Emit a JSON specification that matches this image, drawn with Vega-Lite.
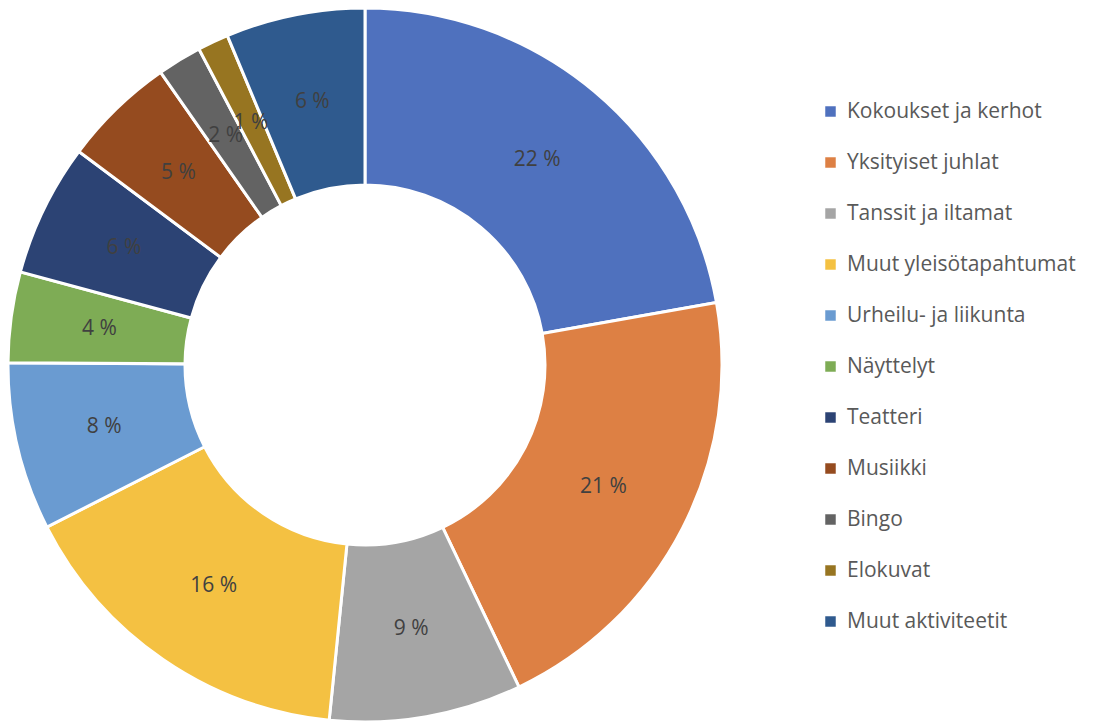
{
  "$schema": "https://vega.github.io/schema/vega-lite/v6.json",
  "width": 730,
  "height": 730,
  "padding": {"left": 0, "top": 0, "bottom": 0, "right": 386},
  "autosize": {"type": "none"},
  "background": "white",
  "config": {"view": {"stroke": null}, "font": "Open Sans"},
  "data": {
    "values": [
      {"kategoria": "Kokoukset ja kerhot", "osuus": 22.2, "nimi": "22 %", "jarj": 1},
      {"kategoria": "Yksityiset juhlat", "osuus": 20.7, "nimi": "21 %", "jarj": 2},
      {"kategoria": "Tanssit ja iltamat", "osuus": 8.7, "nimi": "9 %", "jarj": 3},
      {"kategoria": "Muut yleisötapahtumat", "osuus": 15.9, "nimi": "16 %", "jarj": 4},
      {"kategoria": "Urheilu- ja liikunta", "osuus": 7.6, "nimi": "8 %", "jarj": 5},
      {"kategoria": "Näyttelyt", "osuus": 4.1, "nimi": "4 %", "jarj": 6},
      {"kategoria": "Teatteri", "osuus": 6.0, "nimi": "6 %", "jarj": 7},
      {"kategoria": "Musiikki", "osuus": 5.1, "nimi": "5 %", "jarj": 8},
      {"kategoria": "Bingo", "osuus": 2.0, "nimi": "2 %", "jarj": 9},
      {"kategoria": "Elokuvat", "osuus": 1.4, "nimi": "1 %", "jarj": 10},
      {"kategoria": "Muut aktiviteetit", "osuus": 6.3, "nimi": "6 %", "jarj": 11}
    ]
  },
  "encoding": {
    "theta": {"field": "osuus", "type": "quantitative", "stack": true},
    "order": {"field": "jarj", "type": "quantitative"}
  },
  "layer": [
    {
      "mark": {"type": "arc", "innerRadius": 180, "outerRadius": 357, "stroke": "white", "strokeWidth": 3},
      "encoding": {
        "color": {
          "field": "kategoria",
          "type": "nominal",
          "sort": null,
          "scale": {
            "domain": ["Kokoukset ja kerhot", "Yksityiset juhlat", "Tanssit ja iltamat", "Muut yleisötapahtumat", "Urheilu- ja liikunta", "Näyttelyt", "Teatteri", "Musiikki", "Bingo", "Elokuvat", "Muut aktiviteetit"],
            "range": ["#4F71BE", "#DD8044", "#A5A5A5", "#F4C142", "#6A9BD1", "#7EAC55", "#2C4374", "#954B1F", "#636363", "#977521", "#2F5A8E"]
          },
          "legend": {
            "title": null,
            "orient": "none",
            "legendX": 820,
            "legendY": 101,
            "symbolType": "square",
            "symbolSize": 110,
            "symbolStrokeWidth": 0,
            "labelFontSize": 21,
            "labelColor": "#595959",
            "labelFont": "Open Sans",
            "labelLimit": 400,
            "rowPadding": 29,
            "labelOffset": 6
          }
        }
      }
    },
    {
      "mark": {"type": "text", "radius": 268, "fontSize": 21, "color": "#404040", "font": "Open Sans"},
      "encoding": {"text": {"field": "nimi", "type": "nominal"}}
    }
  ]
}
